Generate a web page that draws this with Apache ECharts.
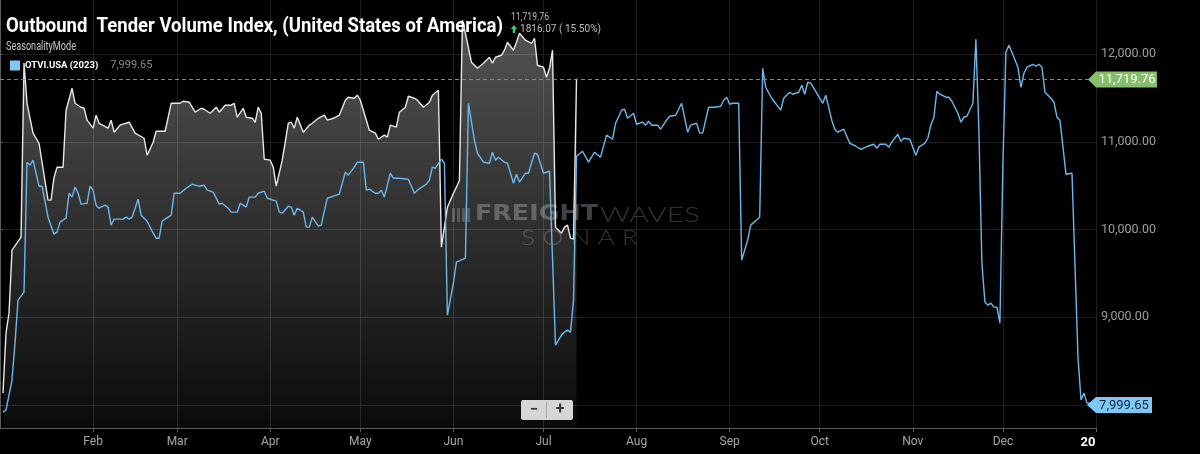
<!DOCTYPE html>
<html><head><meta charset="utf-8">
<script src="https://cdn.jsdelivr.net/npm/echarts@6/dist/echarts.min.js"></script>
<style>html,body{margin:0;padding:0;background:#000;}#c{width:1200px;height:454px;}</style>
</head><body><div id="c"></div>
<script>
// ---- data (day index: 0 = Jan 1) ----
const monthDays = [31,59,90,120,151,181,212,243,273,304,334,365];
const monthLabels = ['Feb','Mar','Apr','May','Jun','Jul','Aug','Sep','Oct','Nov','Dec','20'];
const yTickValues = [8000,9000,10000,11000,12000];
const yLabelValues = [9000,10000,11000,12000];
const seriesName2023 = 'OTVI.USA (2023)';
const seriesNameCur = 'OTVI.USA';
const changeText = '1816.07 ( 15.50%)';

const whiteDays = [1,2,3,4,7,8,9,11,13,16,17,18,19,21,22,24,25,27,28,29,31,32,33,36,37,38,40,43,45,48,49,51,52,55,57,60,61,63,65,67,68,70,72,73,75,77,78,79,81,82,84,85,86,87,88,90,91,92,94,96,97,98,99,101,103,104,106,108,109,111,113,115,116,118,119,120,122,123,125,126,128,129,130,132,133,135,136,138,139,141,143,144,146,147,149,151,152,153,154,155,157,159,161,163,164,165,167,168,169,171,172,173,175,177,178,179,181,182,183,184,185,187,188,189,190,191,192];
const whiteVals = [8135,8819,9047,9766,9914,11900,11441,11100,10985,10336,10336,10598,10712,10712,11362,11612,11441,11396,11384,11248,11157,11305,11213,11157,11248,11111,11191,11225,11100,11042,10849,10997,11122,11122,11441,11441,11464,11453,11339,11384,11373,11327,11396,11339,11419,11419,11441,11282,11384,11282,11270,11225,11396,11327,10803,10792,10712,10495,10792,11213,11225,11157,11282,11111,11191,11213,11270,11305,11248,11270,11305,11476,11510,11498,11533,11476,11248,11134,11100,11031,11077,11054,11191,11168,11339,11396,11521,11498,11476,11396,11453,11533,11590,9800,10256,10415,10484,10564,12388,12239,11909,11840,11897,11966,11897,11966,11989,12046,12137,12046,12137,12239,12160,12125,12182,11875,11852,11738,11840,12046,10028,9959,10028,10051,9902,9891,11719.76];

const blueDays = [1,2,4,5,6,8,9,10,11,13,14,16,18,19,20,22,23,24,25,26,27,29,30,31,32,33,35,36,37,38,41,42,43,44,46,47,49,51,52,53,54,57,58,60,62,64,66,68,69,71,73,74,76,77,79,80,82,83,85,86,88,89,92,93,94,96,97,98,99,101,102,103,104,106,107,108,109,112,113,115,116,118,119,121,122,123,125,126,127,128,130,131,133,136,138,139,142,143,144,145,147,148,149,151,152,155,156,158,159,161,163,164,165,166,168,169,171,172,173,175,176,178,179,181,183,185,187,188,189,190,191,192,194,196,198,200,202,204,205,207,208,209,211,212,214,215,216,217,219,220,222,223,225,227,229,230,232,233,234,236,238,240,241,242,243,244,246,247,249,250,253,254,255,257,258,260,261,263,264,266,267,268,269,270,272,274,275,277,278,279,281,283,285,286,287,289,291,292,293,295,296,297,299,300,301,303,305,306,308,309,310,311,312,313,315,316,317,319,320,321,322,324,325,326,327,328,329,330,331,332,333,334,335,336,337,339,340,341,342,344,345,346,347,348,350,351,352,353,354,355,357,359,360,361,362,363,364];
const blueVals = [7919,7942,8284,8705,9196,9287,10769,10735,10792,10495,10495,10142,9948,9971,10085,10130,10415,10370,10484,10415,10290,10301,10495,10450,10279,10244,10279,10256,10051,10119,10119,10142,10119,10142,10347,10165,10096,9959,9902,9902,10096,10165,10415,10415,10472,10518,10495,10506,10450,10427,10290,10301,10244,10199,10199,10301,10256,10370,10370,10415,10438,10358,10324,10199,10187,10267,10256,10165,10244,10199,10028,10028,10142,10039,10051,10210,10358,10393,10404,10655,10621,10712,10769,10769,10450,10461,10415,10415,10450,10370,10643,10586,10586,10575,10415,10450,10518,10564,10712,10700,10803,10757,9025,9389,9628,9674,11441,11020,10871,10769,10757,10883,10792,10826,10769,10757,10529,10632,10541,10643,10643,10871,10860,10643,10666,8683,8797,8831,8854,8831,9196,10837,10894,10769,10883,10826,11077,11031,11213,11362,11373,11270,11327,11202,11225,11191,11236,11191,11191,11145,11248,11293,11305,11441,11111,11191,11213,11100,11100,11396,11396,11407,11476,11510,11430,11441,11441,9651,9880,10051,10142,11840,11624,11498,11453,11362,11498,11567,11544,11567,11647,11544,11681,11670,11556,11441,11533,11248,11145,11111,11145,10985,10951,10928,10917,10951,10974,10928,10974,10974,10940,10997,11088,11008,11042,11031,10849,10940,10985,11042,11191,11282,11578,11544,11510,11510,11464,11327,11225,11282,11293,11441,12171,11134,9617,9173,9139,9162,9116,9116,8933,10757,12023,12103,12023,11852,11624,11783,11852,11886,11863,11886,11852,11567,11498,11453,11282,11248,10940,10632,10643,8546,8056,8135,8021,8021,7999.65];

// ---- chart ----
const fmt2 = v => v.toLocaleString('en-US',{minimumFractionDigits:2, maximumFractionDigits:2});
const lastWhite = whiteVals[whiteVals.length-1];
const lastBlue = blueVals[blueVals.length-1];
const whiteData = whiteDays.map((d,i)=>[d, whiteVals[i]]);
const blueData = blueDays.map((d,i)=>[d, blueVals[i]]);
const dashGreen = '#59b02e';

const chart = echarts.init(document.getElementById('c'), null, {renderer:'canvas'});
const option = {
  backgroundColor:'#000',
  animation:false,
  grid:{left:0, right:104, top:0, bottom:26, containLabel:false, outerBoundsMode:'none'},
  legend:{
    data:[seriesName2023], left:10, top:60, padding:0, icon:'rect', itemWidth:10, itemHeight:10,
    selectedMode:false,
    formatter: n => '{n|' + n + '}{v|' + fmt2(lastBlue) + '}',
    textStyle:{
      rich:{
        n:{color:'#fff', fontWeight:'bold', fontSize:9.5, fontFamily:'Roboto, sans-serif'},
        v:{color:'#8a8a8a', fontSize:11, fontFamily:'Roboto, sans-serif', padding:[0,0,0,12]}
      }
    }
  },
  xAxis:{
    type:'value', min:0, max:365,
    axisLine:{show:true, onZero:false, lineStyle:{color:'#5c5c5c'}},
    axisTick:{show:true, customValues:monthDays, length:4, lineStyle:{color:'#5c5c5c'}},
    axisLabel:{
      customValues:monthDays, color:'#a6a6a6', fontSize:12, margin:8, fontFamily:'Roboto, sans-serif',
      formatter: v => { const i = monthDays.indexOf(v); return i === monthDays.length-1 ? '{y|' + monthLabels[i] + '}' : monthLabels[i]; },
      rich:{y:{color:'#fff', fontWeight:'bold', fontSize:13, padding:[0,16,0,0]}}
    },
    splitLine:{show:true, lineStyle:{color:'#1e1e1e', width:1}}
  },
  yAxis:{
    type:'value', position:'right', min:7737, max:12619, scale:true,
    axisLine:{show:true, lineStyle:{color:'#5c5c5c'}},
    axisTick:{show:true, customValues:yTickValues, length:3, lineStyle:{color:'#5c5c5c'}},
    axisLabel:{customValues:yLabelValues, color:'#9c9c9c', fontSize:12.5, margin:5, fontFamily:'Roboto, sans-serif', formatter: v => fmt2(v)},
    splitLine:{show:true, lineStyle:{color:'#1e1e1e', width:1}}
  },
  series:[
    {
      name:seriesNameCur, type:'line', data:whiteData, showSymbol:false, z:2,
      lineStyle:{color:'#e8e8e8', width:1.4},
      itemStyle:{color:'#e8e8e8'},
      areaStyle:{origin:'start', color:new echarts.graphic.LinearGradient(0,0,0,1,[
        {offset:0, color:'rgba(255,255,255,0.47)'},
        {offset:1, color:'rgba(255,255,255,0.06)'}
      ])}
    },
    {
      name:seriesName2023, type:'line', data:blueData, showSymbol:false, z:3,
      lineStyle:{color:'#6cb8ea', width:1.4},
      itemStyle:{color:'#7fc8f8'}
    }
  ]
};
chart.setOption(option);

// ---- overlay texts, current-value guide and tags ----
const ctx = document.createElement('canvas').getContext('2d');
function fit(text, font, w){ ctx.font = font; return w / ctx.measureText(text).width; }
function txt(text, x, y, font, fill, w, extra){
  const el = {type:'text', x:x, y:y, silent:true, style:{text:text, font:font, fill:fill, align:'left', verticalAlign:'middle'}};
  if (w) el.scaleX = fit(text, font, w);
  return Object.assign(el, extra||{});
}
const titleFont = 'bold 20.5px Roboto, sans-serif';
const yW = Math.round(chart.convertToPixel({yAxisIndex:0}, lastWhite)) + 0.5;
const yB = chart.convertToPixel({yAxisIndex:0}, lastBlue);
const wm = 'rgba(255,255,255,0.2)';
const graphics = [
  txt('Outbound  Tender Volume Index, (United States of America)', 6, 27, titleFont, '#ffffff', 497, {z:20}),
  txt('SeasonalityMode', 6, 47, '12px Roboto, sans-serif', '#c8c8c8', 70, {z:20}),
  txt(fmt2(lastWhite), 511, 17, '10.5px Roboto, sans-serif', '#bdbdbd', 38, {z:20}),
  {type:'polygon', silent:true, z:20, shape:{points:[[514,25],[517,29],[515.2,29],[515.2,33],[512.8,33],[512.8,29],[511,29]]}, style:{fill:'#3fd17a'}},
  txt(changeText, 520, 29, '10.5px Roboto, sans-serif', '#bdbdbd', 81, {z:20}),
  // dashed current-value guide
  {type:'line', silent:true, z:4, shape:{x1:0, y1:yW, x2:1090, y2:yW}, style:{stroke:dashGreen, lineWidth:1.2, lineDash:[4,3], opacity:1}},
  // watermark
  {type:'rect', silent:true, z:1, shape:{x:452,y:208,width:3,height:14}, style:{fill:wm}},
  {type:'rect', silent:true, z:1, shape:{x:457,y:208,width:3,height:14}, style:{fill:wm}},
  {type:'rect', silent:true, z:1, shape:{x:462,y:208,width:3,height:14}, style:{fill:wm}},
  {type:'rect', silent:true, z:1, shape:{x:467,y:208,width:3,height:14}, style:{fill:wm}},
  txt('FREIGHT', 475, 215, 'bold 21px "DejaVu Sans", sans-serif', 'rgba(255,255,255,0.26)', 123, {z:1}),
  txt('WAVES', 600, 215, '300 21px Lato, sans-serif', 'rgba(255,255,255,0.2)', 100, {z:1}),
  txt('S O N A R', 521, 238, '300 21px Lato, sans-serif', 'rgba(255,255,255,0.2)', 117, {z:1}),
  // zoom control
  {type:'rect', silent:true, z:20, shape:{x:521,y:400,width:52,height:20,r:2}, style:{fill:'#d6d6d6'}},
  {type:'line', silent:true, z:21, shape:{x1:546.5,y1:402,x2:546.5,y2:418}, style:{stroke:'#a8a8a8', lineWidth:1}},
  {type:'text', silent:true, z:21, x:534, y:410, style:{text:'\u2212', font:'bold 15px Roboto, sans-serif', fill:'#3a3a3a', align:'center', verticalAlign:'middle'}},
  {type:'text', silent:true, z:21, x:560, y:410, style:{text:'+', font:'bold 16px Roboto, sans-serif', fill:'#3a3a3a', align:'center', verticalAlign:'middle'}},
  // value tags
  {type:'polygon', silent:true, z:20, shape:{points:[[1088,yW],[1096,yW-8],[1157,yW-8],[1157,yW+8],[1096,yW+8]]}, style:{fill:'#86bf69'}},
  {type:'text', silent:true, z:21, x:1127, y:yW+0.5, style:{text:fmt2(lastWhite), font:'13px Roboto, sans-serif', fill:'#ffffff', align:'center', verticalAlign:'middle'}},
  {type:'polygon', silent:true, z:20, shape:{points:[[1087,yB],[1096,yB-8],[1152,yB-8],[1152,yB+8],[1096,yB+8]]}, style:{fill:'#7cc8f8'}},
  {type:'text', silent:true, z:21, x:1124, y:yB+0.5, style:{text:fmt2(lastBlue), font:'13px Roboto, sans-serif', fill:'#13263a', align:'center', verticalAlign:'middle'}}
];
chart.setOption({graphic:{elements:graphics}});
</script>
</body></html>
